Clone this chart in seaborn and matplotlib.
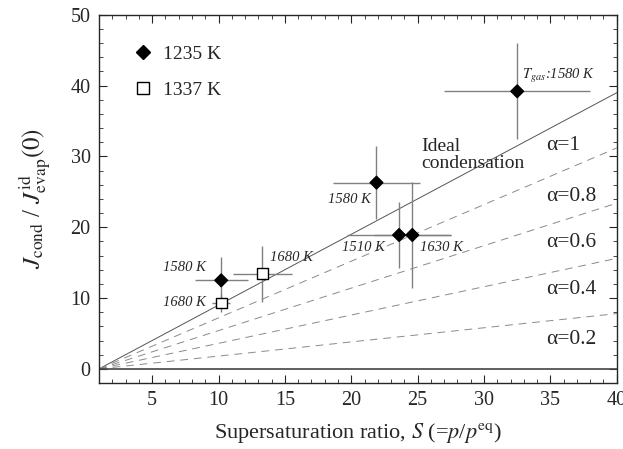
import matplotlib
matplotlib.use('Agg')
import matplotlib.pyplot as plt
import numpy as np
import pandas as pd
import seaborn as sns

sns.set_style('ticks')
plt.rcParams['font.family'] = ['Liberation Serif', 'DejaVu Serif']
plt.rcParams['mathtext.fontset'] = 'stix'

# data
series = ['1235 K', '1235 K', '1235 K', '1235 K', '1235 K', '1337 K', '1337 K']
S = [10.2, 21.9, 23.6, 24.6, 32.5, 10.2, 13.3]
J = [12.5, 26.3, 18.9, 18.9, 39.2, 9.3, 13.4]
S_err = [2.0, 3.3, 3.9, 2.9, 5.5, 0.7, 2.2]
J_err = [3.3, 5.2, 4.7, 7.5, 6.8, 1.3, 4.0]
tgas = ['1580 K', '1580 K', '1510 K', '1630 K', 'T_gas:1580 K', '1680 K', '1680 K']
alphas = [1.0, 0.8, 0.6, 0.4, 0.2]

df = pd.DataFrame({'series': series, 'S': S, 'J': J, 'S_err': S_err, 'J_err': J_err, 'Tgas': tgas})

fig, ax = plt.subplots(figsize=(6.23, 4.49), dpi=100)
fig.subplots_adjust(left=0.159, right=0.990, top=0.967, bottom=0.147)

# condensation lines J = alpha (S - 1)
s_line = np.array([1.0, 40.0])
for a in alphas:
    if a == 1.0:
        ax.plot(s_line, a * (s_line - 1), color='#555555', lw=0.7, zorder=1)
    else:
        ax.plot(s_line, a * (s_line - 1), color='#8a8a8a', lw=0.7, dashes=(8, 6), zorder=1)
ax.axhline(0, color='#444444', lw=1.2, zorder=1)

ax.errorbar(df['S'], df['J'], xerr=df['S_err'], yerr=df['J_err'], fmt='none',
            ecolor='#808080', elinewidth=1.0, capsize=0, zorder=2)

sns.scatterplot(data=df, x='S', y='J', hue='series', style='series', size='series',
                markers={'1235 K': 'D', '1337 K': 's'},
                palette={'1235 K': 'black', '1337 K': 'white'},
                sizes={'1235 K': 42, '1337 K': 62},
                edgecolor='black', linewidth=1.0, ax=ax, zorder=3)

leg = ax.legend(loc='upper left', bbox_to_anchor=(0.013, 0.965), frameon=False,
                fontsize=14, handletextpad=0.05, labelspacing=0.95, markerscale=1.0)
for h, ms in zip(leg.legend_handles, [7.0, 8.8]):
    h.set_markeredgecolor('black')
    h.set_markersize(ms)

# temperature annotations
it = dict(fontstyle='italic', fontsize=10.5, va='center')
ax.text(9.05, 14.3, '1580 K', ha='right', **it)
ax.text(9.05, 9.3, '1680 K', ha='right', **it)
ax.text(13.9, 15.7, '1680 K', ha='left', **it)
ax.text(21.45, 23.9, '1580 K', ha='right', **it)
ax.text(19.3, 17.2, '1510 K', ha='left', **it)
ax.text(25.2, 17.2, '1630 K', ha='left', **it)
ax.text(32.85, 41.3, r'$T_{gas}$:1580 K', ha='left', **it)

ax.text(25.26, 30.2, 'Ideal\ncondensation', fontsize=14, ha='left', va='center',
        linespacing=0.95)
alpha_y = [31.5, 24.4, 17.8, 11.2, 4.2]
for a, y in zip(alphas, alpha_y):
    ax.text(34.7, y, 'α=' + ('1' if a == 1.0 else f'{a:g}'), fontsize=15.5,
            ha='left', va='center')

ax.set_xlim(1, 40)
ax.set_ylim(-2, 50)
ax.set_xticks([5, 10, 15, 20, 25, 30, 35, 40])
ax.set_yticks([0, 10, 20, 30, 40, 50])
ax.set_xticks(np.arange(1, 41, 1), minor=True)
ax.set_yticks(np.arange(0, 51, 2), minor=True)
ax.tick_params(which='both', direction='in', top=True, right=True, labelsize=14.5)
ax.tick_params(which='major', length=6, width=0.8, pad=6)
ax.tick_params(which='minor', length=3, width=0.6)
for sp in ax.spines.values():
    sp.set_linewidth(1.0)

ax.set_xlabel(r'Supersaturation ratio, $S$ (=$p$/$p^{\rm eq}$)', fontsize=16, labelpad=8)
ax.set_ylabel(r'$J_{\rm cond}$ / $J^{\rm id}_{\rm evap}(0)$', fontsize=18, labelpad=13)

fig.savefig('out.png', dpi=100)
